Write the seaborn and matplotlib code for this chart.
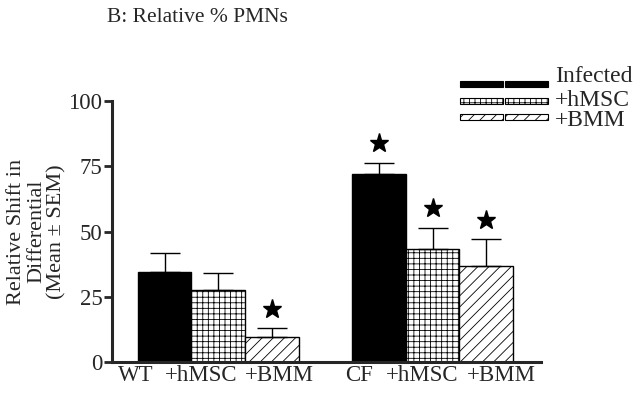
import numpy as np
import pandas as pd
import matplotlib

matplotlib.use("Agg")
import matplotlib.pyplot as plt
import matplotlib.transforms as mtransforms
import seaborn as sns
from matplotlib.patches import Rectangle

# ===================== data =====================
strains = ["WT", "CF"]
treatments = ["Infected", "+hMSC", "+BMM"]
tick_labels = ["WT", "+hMSC", "+BMM", "CF", "+hMSC", "+BMM"]
means = {"WT": [34.5, 27.5, 9.5], "CF": [72.0, 43.5, 37.0]}
sems = {"WT": [7.5, 6.5, 3.5], "CF": [4.5, 8.0, 10.0]}
significant = {"WT": [False, False, True], "CF": [True, True, True]}

rows = []
for s in strains:
    for i, t in enumerate(treatments):
        rows.append({"strain": s, "treatment": t, "value": means[s][i]})
df = pd.DataFrame(rows)

# ===================== style =====================
sns.set_style("ticks")
plt.rcParams["font.family"] = ["Liberation Serif", "DejaVu Serif"]
plt.rcParams["hatch.linewidth"] = 0.6

W, H = 640, 394
fig = plt.figure(figsize=(6.4, 3.94), dpi=100)
ax = fig.add_axes([0.175, 0.081, 0.67, 0.662])

palette = {"Infected": "black", "+hMSC": "white", "+BMM": "white"}
hatches = {"Infected": "", "+hMSC": "+++", "+BMM": "///"}

sns.barplot(data=df, x="strain", y="value", hue="treatment", order=strains,
            hue_order=treatments, palette=palette, width=0.75, edgecolor="black",
            linewidth=1.0, errorbar=None, legend=False, saturation=1, ax=ax)

centers = []
for t, cont in zip(treatments, ax.containers):
    for bar in cont:
        bar.set_hatch(hatches[t])
for j, s in enumerate(strains):
    for i, t in enumerate(treatments):
        bar = ax.containers[i][j]
        cx = bar.get_x() + bar.get_width() / 2
        m = means[s][i]
        e = sems[s][i]
        ax.errorbar(cx, m, yerr=[[0], [e]], color="black", capsize=10.5,
                    elinewidth=1.0, capthick=1.0, zorder=1)
        if significant[s][i]:
            ax.plot(cx, m + e + 7.5, marker="*", markersize=14, color="black",
                    linestyle="none")
        centers.append(cx)

# category labels sit as one typed line under the bars, not exactly centred
label_shift_px = [-29, -17, 8, -20, -10, 15]
ax.set_xticks([])
for cx, lab, dx in zip(centers, tick_labels, label_shift_px):
    tr = ax.get_xaxis_transform() + mtransforms.ScaledTranslation(dx / 100, 0, fig.dpi_scale_trans)
    ax.text(cx, -0.05, lab, transform=tr, ha="center", va="center", fontsize=16.5)

ax.set_xlim(-0.495, 1.505)
ax.set_ylim(0, 100)
ax.set_yticks([0, 25, 50, 75, 100])
ax.tick_params(axis="y", labelsize=16.5, width=2, length=6, pad=1)
ax.set_xlabel("")
ax.set_ylabel("Relative Shift in\nDifferential\n(Mean ± SEM)", fontsize=16,
              linespacing=1.08, labelpad=1)
sns.despine(ax=ax, top=True, right=True)
ax.spines["left"].set_linewidth(2.2)
ax.spines["bottom"].set_linewidth(2.2)

fig.text(107 / W, 1 - 18 / H, "B: Relative % PMNs", fontsize=15.5, ha="left", va="center")

# legend drawn by hand: two side-by-side swatches per entry
handle_y = [84, 101, 117]
text_y = [76, 100, 121]
for t, hy, ty in zip(treatments, handle_y, text_y):
    for x0 in (460, 505):
        fig.add_artist(Rectangle((x0 / W, 1 - (hy + 3) / H), 43 / W, 6 / H,
                                 transform=fig.transFigure, facecolor=palette[t],
                                 edgecolor="black", linewidth=0.8, hatch=hatches[t]))
    fig.text(555 / W, 1 - ty / H, t, fontsize=17, ha="left", va="center")

fig.savefig("out.png", dpi=100)
